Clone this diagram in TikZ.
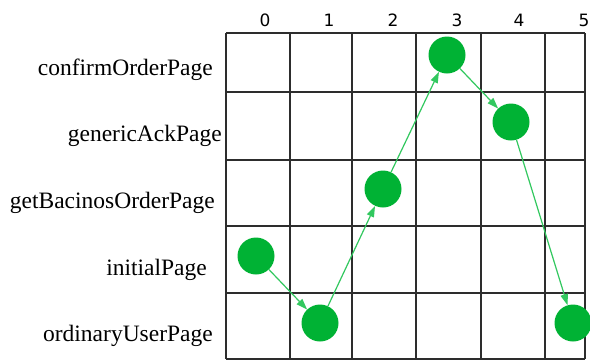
\documentclass[tikz,border=0pt]{standalone}
\usepackage{fontspec}
\setmainfont{Liberation Serif}
\newfontfamily\colfont{DejaVu Sans}
\usetikzlibrary{arrows.meta}
\definecolor{dotgreen}{RGB}{0,178,52}
\definecolor{arrgreen}{RGB}{50,200,95}
\definecolor{gridgray}{RGB}{45,45,45}
\tikzset{
  gridline/.style={draw=gridgray, line width=1.5pt},
  statedot/.style={circle, fill=dotgreen, draw=none, minimum size=37pt, inner sep=0pt},
  rowlabel/.style={anchor=east, inner sep=0pt, font=\fontsize{23.5}{26}\selectfont},
  collabel/.style={inner sep=0pt, font=\colfont\fontsize{17}{20}\selectfont},
  trans/.style={draw=arrgreen, line width=1.2pt, -{Triangle[length=11pt,width=7.5pt]}}
}
\begin{document}
\begin{tikzpicture}[x=1pt,y=-1pt]
\useasboundingbox (0,0) rectangle (590,362);
\fill[white] (0,0) rectangle (590,362);
% grid
\foreach \x in {226,290,352,416,481,545,585}
  \draw[gridline] (\x,33) -- (\x,359);
\foreach \y in {33,92,160,226,293,359}
  \draw[gridline] (226,\y) -- (585,\y);
% column labels
\node[collabel] (c0) at (265,20) {0};
\node[collabel] (c1) at (329,20) {1};
\node[collabel] (c2) at (393,20) {2};
\node[collabel] (c3) at (457,20) {3};
\node[collabel] (c4) at (519,20) {4};
\node[collabel] (c5) at (584,20) {5};
% row labels
\node[rowlabel] (r0) at (213,70) {confirmOrderPage};
\node[rowlabel] (r1) at (222,136) {genericAckPage};
\node[rowlabel] (r2) at (215,203) {getBacinosOrderPage};
\node[rowlabel] (r3) at (207,270) {initialPage};
\node[rowlabel] (r4) at (213,336) {ordinaryUserPage};
% states
\node[statedot] (s0) at (256,256) {};
\node[statedot] (s1) at (320,323) {};
\node[statedot] (s2) at (383,189) {};
\node[statedot] (s3) at (447,55) {};
\node[statedot] (s4) at (511,122) {};
\node[statedot] (s5) at (573,323) {};
% transitions
\draw[trans] (s0) -- (s1);
\draw[trans] (s1) -- (s2);
\draw[trans] (s2) -- (s3);
\draw[trans] (s3) -- (s4);
\draw[trans] (s4) -- (s5);
\end{tikzpicture}
\end{document}
